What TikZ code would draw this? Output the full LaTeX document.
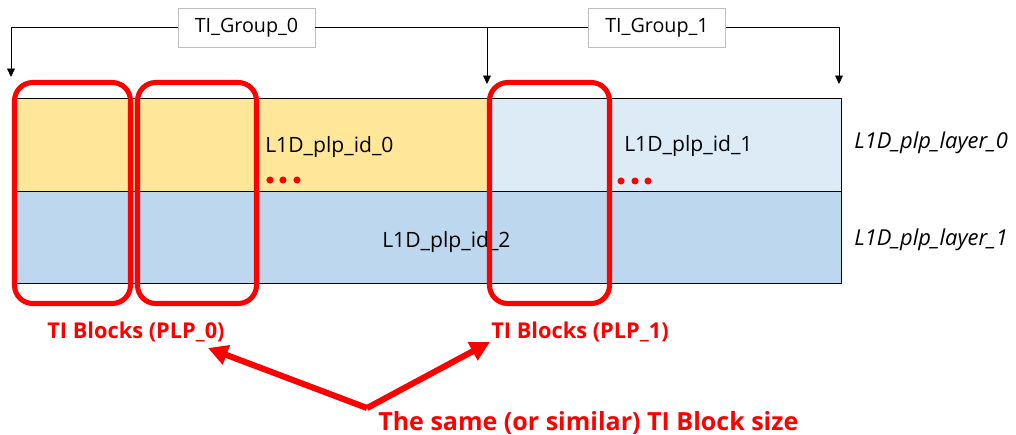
\documentclass[tikz,border=0pt]{standalone}
\usepackage{fontspec}
\setmainfont{Open Sans}
\usetikzlibrary{arrows.meta,positioning}
\definecolor{bandyellow}{HTML}{FFE699}
\definecolor{bandlight}{HTML}{DDEBF7}
\definecolor{bandblue}{HTML}{BDD7EE}

\begin{document}
\begin{tikzpicture}[x=0.025cm, y=-0.025cm,
        band/.style={draw=black, line width=0.6pt},
        tiblock/.style={draw=red, line width=3.6pt, rounded corners=13pt},
        groupbox/.style={draw=black!25, fill=white, line width=0.5pt, minimum width=3.425cm, minimum height=0.975cm, font=\fontsize{14}{16}\selectfont},
        plptext/.style={inner sep=0pt, anchor=base west, font=\fontsize{15}{18}\selectfont},
        layertext/.style={plptext, font=\fontsize{15.6}{18}\selectfont\itshape},
        redtext/.style={inner sep=0pt, anchor=base west, text=red, font=\fontsize{15.5}{18}\selectfont\bfseries},
        grouparrow/.style={-{Triangle[width=5.5pt,length=6pt]}, line width=0.5pt},
        bigarrow/.style={-{Triangle[width=14pt,length=14pt]}, draw=red, line width=4.3pt}]
    \useasboundingbox (0,0) rectangle (1016,434);
    % layers
    \path[band, fill=bandyellow] (14,98) rectangle (490,191);
    \path[band, fill=bandlight] (490,98) rectangle (841,191);
    \path[band, fill=bandblue] (14,191) rectangle (841,283);
    \node[plptext] (id0) at (265,152) {L1D\_plp\_id\_0};
    \node[plptext] (id1) at (624,151) {L1D\_plp\_id\_1};
    \node[plptext] (id2) at (382,247) {L1D\_plp\_id\_2};
    \node[layertext] (layer0) at (854,148) {L1D\_plp\_layer\_0};
    \node[layertext] (layer1) at (854,245) {L1D\_plp\_layer\_1};
    \foreach \x in {270,283,297} \fill[red] (\x,180) circle (2.5pt);
    \foreach \x in {621,635,648} \fill[red] (\x,181) circle (2.5pt);
    % TI groups
    \node[groupbox] (group0) at (246.5,27.5) {TI\_Group\_0};
    \node[groupbox] (group1) at (657,27.5) {TI\_Group\_1};
    \coordinate (g0l) at (11,77);
    \coordinate (g0r) at (487,84);
    \coordinate (g1r) at (839,84);
    \draw[grouparrow] (group0.west) -| (g0l);
    \draw[grouparrow] (group0.east) -| (g0r);
    \draw (group1.west) -- (g0r |- group1.west);
    \draw[grouparrow] (group1.east) -| (g1r);
    % TI blocks
    \draw[tiblock] (14.5,82.5) rectangle (130.5,303.5);
    \draw[tiblock] (137.5,82.5) rectangle (256.5,303.5);
    \draw[tiblock] (489.5,82.5) rectangle (609.5,303.5);
    \node[redtext] (blocks0) at (47,338) {TI Blocks (PLP\_0)};
    \node[redtext] (blocks1) at (491,338) {TI Blocks (PLP\_1)};
    \node[redtext, font=\fontsize{17.8}{20}\selectfont\bfseries] (same) at (378,430) {The same (or similar) TI Block size};
    \coordinate (vtx) at (367,408);
    \coordinate (tip0) at (208,348);
    \coordinate (tip1) at (490,342);
    \draw[bigarrow] (vtx) -- (tip0);
    \draw[bigarrow] (vtx) -- (tip1);
\end{tikzpicture}
\end{document}
